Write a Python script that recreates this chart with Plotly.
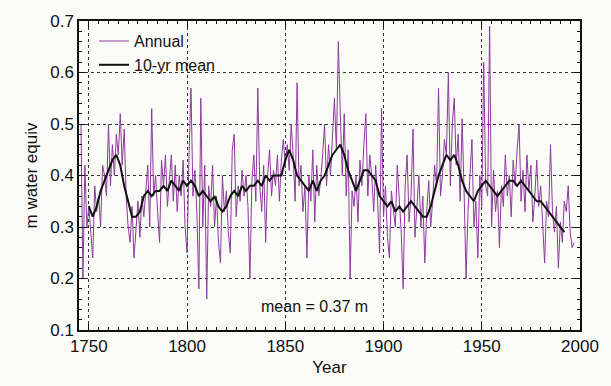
import plotly.graph_objects as go

# Annual values, 1746-1997 (m water equivalent)
annual_years = list(range(1746, 1998))
annual_values = [
    0.50, 0.20, 0.42, 0.30,
    0.34, 0.28, 0.24, 0.38, 0.33, 0.36, 0.30, 0.42, 0.40, 0.36,
    0.50, 0.38, 0.46, 0.40, 0.48, 0.44, 0.52, 0.42, 0.49, 0.36,
    0.30, 0.27, 0.34, 0.24, 0.30, 0.35, 0.28, 0.36, 0.32, 0.38,
    0.42, 0.30, 0.53, 0.36, 0.40, 0.33, 0.27, 0.43, 0.38, 0.44,
    0.34, 0.39, 0.44, 0.35, 0.42, 0.33, 0.40, 0.36, 0.43, 0.30,
    0.25, 0.44, 0.57, 0.36, 0.41, 0.33, 0.18, 0.55, 0.30, 0.42,
    0.16, 0.38, 0.34, 0.42, 0.30, 0.36, 0.27, 0.23, 0.40, 0.33,
    0.37, 0.29, 0.25, 0.45, 0.48, 0.32, 0.38, 0.35, 0.41, 0.36,
    0.40, 0.34, 0.20, 0.39, 0.44, 0.35, 0.57, 0.38, 0.33, 0.42,
    0.27, 0.40, 0.45, 0.36, 0.41, 0.38, 0.44, 0.35, 0.43, 0.47,
    0.42, 0.46, 0.41, 0.50, 0.44, 0.35, 0.58, 0.38, 0.42, 0.33,
    0.38, 0.24, 0.40, 0.35, 0.45, 0.31, 0.42, 0.36, 0.39, 0.44,
    0.50, 0.38, 0.46, 0.40, 0.48, 0.55, 0.45, 0.66, 0.52, 0.40,
    0.52, 0.36, 0.45, 0.20, 0.37, 0.34, 0.40, 0.31, 0.43, 0.38,
    0.46, 0.52, 0.36, 0.44, 0.40, 0.33, 0.42, 0.35, 0.25, 0.53,
    0.32, 0.38, 0.28, 0.24, 0.37, 0.33, 0.30, 0.42, 0.35, 0.29,
    0.18, 0.38, 0.44, 0.31, 0.36, 0.49, 0.28, 0.34, 0.40, 0.30,
    0.36, 0.23, 0.33, 0.39, 0.30, 0.35, 0.42, 0.38, 0.57, 0.36,
    0.40, 0.47, 0.44, 0.60, 0.38, 0.50, 0.55, 0.42, 0.48, 0.35,
    0.51, 0.37, 0.20, 0.33, 0.39, 0.47, 0.30, 0.35, 0.24, 0.40,
    0.34, 0.62, 0.38, 0.36, 0.69, 0.30, 0.41, 0.33, 0.37, 0.26,
    0.38, 0.34, 0.44, 0.36, 0.40, 0.32, 0.43, 0.38, 0.45, 0.50,
    0.35, 0.41, 0.33, 0.44, 0.37, 0.42, 0.31, 0.36, 0.43, 0.34,
    0.38, 0.30, 0.23, 0.35, 0.32, 0.46, 0.33, 0.29, 0.34, 0.22,
    0.31, 0.27, 0.35, 0.33, 0.38, 0.29, 0.26, 0.27,
]

# 10-yr mean, read every 2 years, 1750-1992
mean_years = list(range(1750, 1994, 2))
mean_values = [
    0.34, 0.32, 0.34, 0.37, 0.39, 0.41, 0.43, 0.44, 0.42, 0.38,
    0.35, 0.32, 0.32, 0.33, 0.36, 0.37, 0.36, 0.37, 0.37, 0.38,
    0.37, 0.39, 0.38, 0.37, 0.39, 0.38, 0.39, 0.38, 0.36, 0.37,
    0.36, 0.35, 0.36, 0.34, 0.33, 0.34, 0.36, 0.37, 0.36, 0.38,
    0.37, 0.38, 0.38, 0.39, 0.38, 0.40, 0.39, 0.40, 0.40, 0.40,
    0.43, 0.45, 0.43, 0.40, 0.39, 0.38, 0.37, 0.39, 0.37, 0.39,
    0.40, 0.42, 0.44, 0.45, 0.46, 0.44, 0.41, 0.39, 0.37, 0.39,
    0.41, 0.41, 0.40, 0.39, 0.36, 0.35, 0.34, 0.35, 0.33, 0.34,
    0.33, 0.34, 0.35, 0.34, 0.33, 0.32, 0.32, 0.34, 0.37, 0.40,
    0.42, 0.44, 0.43, 0.44, 0.42, 0.39, 0.37, 0.36, 0.35, 0.37,
    0.38, 0.39, 0.38, 0.37, 0.36, 0.37, 0.38, 0.39, 0.39, 0.38,
    0.39, 0.38, 0.37, 0.36, 0.35, 0.35, 0.34, 0.33, 0.32, 0.31,
    0.30, 0.29,
]

x_ticks = [1750, 1800, 1850, 1900, 1950, 2000]
y_ticks = [0.1, 0.2, 0.3, 0.4, 0.5, 0.6, 0.7]

FONT = "Liberation Sans, Arial, Helvetica, sans-serif"

fig = go.Figure()
fig.add_trace(go.Scatter(
    x=annual_years, y=annual_values, mode="lines", name="Annual",
    line=dict(color="#8e3a9c", width=1),
))
fig.add_trace(go.Scatter(
    x=mean_years, y=mean_values, mode="lines", name="10-yr mean",
    line=dict(color="#111111", width=2),
))

fig.add_annotation(
    x=1865, y=0.145, xref="x", yref="y", text="mean = 0.37 m",
    showarrow=False, font=dict(size=16, color="#111"),
)

axis_common = dict(
    showline=True, linecolor="#111", linewidth=1.5, mirror="ticks",
    ticks="inside", ticklen=6, tickcolor="#111",
    showgrid=True, gridcolor="#333", griddash="dot", gridwidth=1,
    zeroline=False, tickfont=dict(size=17, color="#111", family=FONT),
)

fig.update_xaxes(
    range=[1745, 2000], tickvals=x_ticks, ticktext=[str(v) for v in x_ticks],
    title=dict(text="Year", font=dict(size=17, color="#111", family=FONT), standoff=6),
    minor=dict(dtick=5, ticklen=3, ticks="inside", tickcolor="#111", showgrid=False),
    **axis_common,
)
fig.update_yaxes(
    range=[0.1, 0.7], tickvals=y_ticks, ticktext=[f"{v:.1f}" for v in y_ticks],
    title=dict(text="m water equiv", font=dict(size=17, color="#111", family=FONT), standoff=8),
    minor=dict(dtick=0.02, ticklen=3, ticks="inside", tickcolor="#111", showgrid=False),
    **axis_common,
)

fig.update_layout(
    width=611, height=386,
    margin=dict(l=79, r=30, t=17, b=52),
    paper_bgcolor="#fbfbf8", plot_bgcolor="#fbfbf8",
    font=dict(family=FONT, color="#111"),
    showlegend=True,
    legend=dict(
        x=0.03, y=0.99, xanchor="left", yanchor="top",
        bgcolor="rgba(0,0,0,0)", font=dict(size=16, family=FONT, color="#111"),
        tracegroupgap=0, itemwidth=30,
    ),
)

fig.write_html("out.html")
